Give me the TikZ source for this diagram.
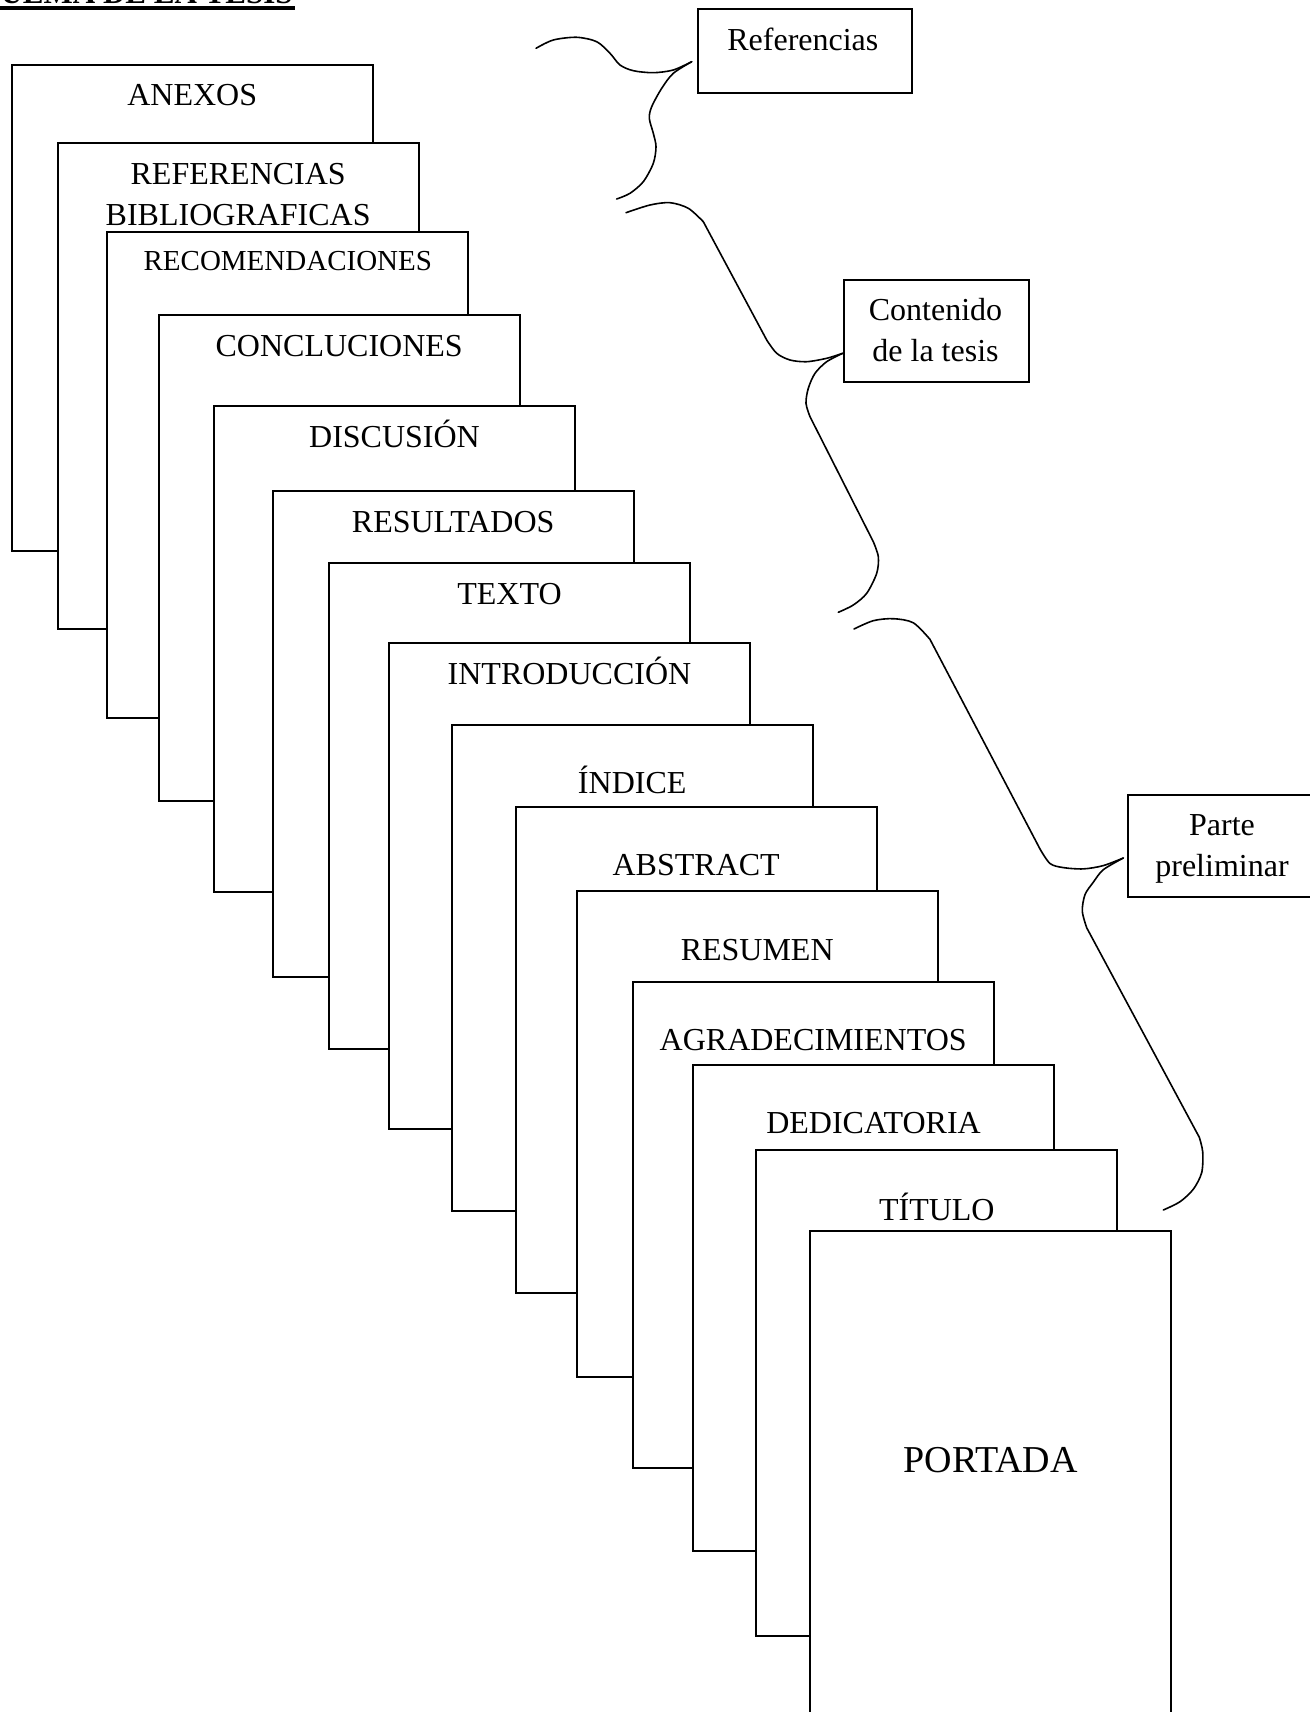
\documentclass[tikz,border=0pt]{standalone}
\usepackage{fontspec}
\setmainfont{Liberation Serif}
\usetikzlibrary{calc}
\begin{document}
\begin{tikzpicture}[x=0.5pt,y=-0.5pt,
  page/.style={draw,fill=white,line width=1pt,minimum width=180.5pt,minimum height=243pt,anchor=north west,inner sep=0pt,outer sep=0pt},
  lab/.style={anchor=base,inner sep=0pt,font=\fontsize{16}{19}\selectfont},
  side/.style={draw,fill=white,line width=1pt,anchor=north west,inner sep=0pt,outer sep=0pt},
  bracecurve/.style={line width=0.8pt,line cap=round,line join=round}]
\useasboundingbox (0,0) rectangle (1310,1712);
\clip (0,0) rectangle (1310,1712);

% title (cut at the top edge)
\node[anchor=base east,inner sep=0pt,font=\bfseries\fontsize{15.5}{18}\selectfont] (title) at (293,4) {ESQUEMA DE LA TESIS};
\draw[line width=2pt] ($(title.base west)+(0,4)$) -- ($(title.base east)+(2,4)$);

% stacked pages, back to front
\node[page] (p1) at (11.7,65) {};
\node[lab] (l1) at ($(p1.north)+(0,41)$) {ANEXOS};
\node[page] (p2) at (57.7,143.3) {};
\node[lab] (l2a) at ($(p2.north)+(0,41)$) {REFERENCIAS};
\node[lab] (l2b) at ($(p2.north)+(0,82)$) {BIBLIOGRAFICAS};
\node[page] (p3) at (107.3,232.3) {};
\node[lab,font=\fontsize{14.5}{17}\selectfont] (l3) at ($(p3.north)+(0,38)$) {RECOMENDACIONES};
\node[page] (p4) at (158.7,315) {};
\node[lab] (l4) at ($(p4.north)+(0,41)$) {CONCLUCIONES};
\node[page] (p5) at (214,406) {};
\node[lab] (l5) at ($(p5.north)+(0,41)$) {DISCUSIÓN};
\node[page] (p6) at (272.7,491) {};
\node[lab] (l6) at ($(p6.north)+(0,41)$) {RESULTADOS};
\node[page] (p7) at (329,563.3) {};
\node[lab] (l7) at ($(p7.north)+(0,41)$) {TEXTO};
\node[page] (p8) at (389,643.3) {};
\node[lab] (l8) at ($(p8.north)+(0,41)$) {INTRODUCCIÓN};
\node[page] (p9) at (451.7,724.7) {};
\node[lab] (l9) at ($(p9.north)+(0,69)$) {ÍNDICE};
\node[page] (p10) at (515.7,807) {};
\node[lab] (l10) at ($(p10.north)+(0,68)$) {ABSTRACT};
\node[page] (p11) at (576.7,891) {};
\node[lab] (l11) at ($(p11.north)+(0,69)$) {RESUMEN};
\node[page] (p12) at (632.7,981.7) {};
\node[lab] (l12) at ($(p12.north)+(0,69)$) {AGRADECIMIENTOS};
\node[page] (p13) at (693,1065) {};
\node[lab] (l13) at ($(p13.north)+(0,68)$) {DEDICATORIA};
\node[page] (p14) at (756.3,1150) {};
\node[lab] (l14) at ($(p14.north)+(0,70)$) {TÍTULO};
\node[page] (p15) at (810,1231) {};
\node[lab,font=\fontsize{19}{22}\selectfont] (l15) at ($(p15.north)+(0,241)$) {PORTADA};

% side boxes
\node[side,minimum width=106.85pt,minimum height=42pt] (ref) at (698,9.3) {};
\node[lab] (reft) at ($(ref.north)+(-2,41)$) {Referencias};
\node[side,minimum width=92.5pt,minimum height=51pt] (cont) at (844,280) {};
\node[lab] (cont1) at ($(cont.north)+(-1,40)$) {Contenido};
\node[lab] (cont2) at ($(cont.north)+(-1,81.7)$) {de la tesis};
\node[side,minimum width=94pt,minimum height=51pt] (parte) at (1128,795) {};
\node[lab] (parte1) at ($(parte.north)+(0,40)$) {Parte};
\node[lab] (parte2) at ($(parte.north)+(0,81.5)$) {preliminar};

% braces
\draw[bracecurve] plot[smooth] coordinates {(536,48.3) (553.3,40) (576.7,37.3) (596.7,41.7) (610,53.3) (620,65) (633.3,70.7) (653.3,72.7) (673.3,70) (691.7,61.7)};
\draw[bracecurve] plot[smooth] coordinates {(691.7,61.7) (673.3,73.3) (661.7,88.3) (651.7,106.7) (649.3,118.3) (653.3,133.3) (656,146.7) (653.3,163.3) (643.3,181.7) (630,193.3) (616.7,199)};

\draw[bracecurve] plot[smooth] coordinates {(626,212.7) (650,205) (670,202.7) (688.3,208.3) (703.3,221.7)}
  -- plot[smooth] coordinates {(766.7,340) (776.7,353.3) (790,360) (806.7,361.7) (826.7,358.3) (842.7,353.3)};
\draw[bracecurve] plot[smooth] coordinates {(842.7,353.3) (826.7,361.7) (815,373.3) (808.3,388.3) (806,403.3) (810,416.7)}
  -- plot[smooth] coordinates {(873.3,541.7) (878.3,556.7) (876.7,573.3) (866.7,593.3) (853.3,605) (838.3,612.3)};

\draw[bracecurve] plot[smooth] coordinates {(854,629) (873.3,620.7) (893.3,618.7) (913.3,622.8) (930,639.4)}
  -- plot[smooth] coordinates {(1040,849) (1050,863.5) (1063.3,867.6) (1083.3,868.9) (1103.3,865.6) (1123.3,858)};
\draw[bracecurve] plot[smooth] coordinates {(1123.3,858) (1103.3,869.7) (1093.3,882.2) (1085,894.6) (1082.3,911.2) (1086.7,927.8)}
  -- plot[smooth] coordinates {(1199.3,1137.3) (1202.7,1151.9) (1201.7,1172.6) (1193.3,1189.2) (1180,1201.7) (1163.3,1210)};
\end{tikzpicture}
\end{document}
